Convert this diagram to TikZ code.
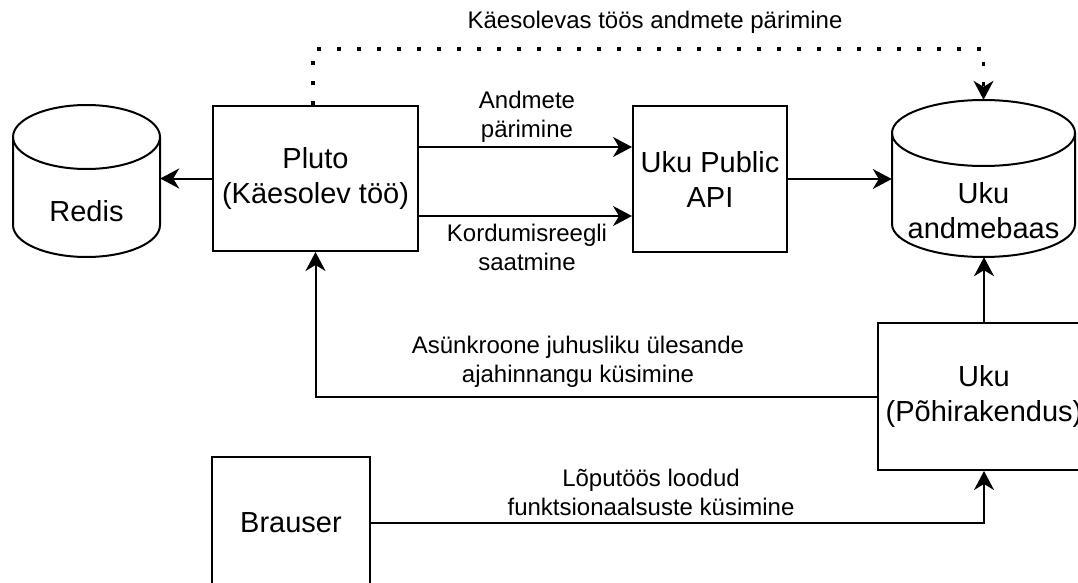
\documentclass[tikz,border=0pt]{standalone}
\usepackage{fontspec}
\setmainfont{Liberation Sans}
\usetikzlibrary{arrows.meta,calc}
\begin{document}
\begin{tikzpicture}[x=1pt,y=-1pt,
  box/.style={draw,line width=2pt,fill=white,inner sep=0pt},
  ntxt/.style={font=\fontsize{29}{35}\selectfont,align=center},
  lbl/.style={font=\fontsize{24}{29}\selectfont,align=center,inner sep=0pt},
  conn/.style={line width=2pt,-{Stealth[length=19pt,width=20pt,inset=6pt]}},
  dotconn/.style={line width=3.5pt,dash pattern=on 3.5pt off 16.5pt,-{Stealth[length=19pt,width=20pt,inset=6pt,line width=1pt]}},
  cyl/.style={draw,line width=2pt,fill=white}]
\useasboundingbox (0,0) rectangle (1078,583);
\clip (0,0) rectangle (1078,583);
% cylinders (frames)
\node[minimum width=147pt,minimum height=152pt,inner sep=0pt] (redis) at (86.5,181) {};
\draw[cyl] (13,137) -- (13,225) arc[start angle=180,end angle=360,x radius=73.5pt,y radius=32pt]
  -- (160,137) arc[start angle=0,end angle=180,x radius=73.5pt,y radius=32pt] -- cycle;
\draw[line width=2pt] (13,137) arc[start angle=180,end angle=360,x radius=73.5pt,y radius=32pt];
\node[ntxt] (redistxt) at (86.5,211) {Redis};
\node[minimum width=183pt,minimum height=157pt,inner sep=0pt] (db) at (983.5,178.5) {};
\draw[cyl] (892,133) -- (892,224) arc[start angle=180,end angle=360,x radius=91.5pt,y radius=33pt]
  -- (1075,133) arc[start angle=0,end angle=180,x radius=91.5pt,y radius=33pt] -- cycle;
\draw[line width=2pt] (892,133) arc[start angle=180,end angle=360,x radius=91.5pt,y radius=33pt];
\node[ntxt] (dbtxt) at (983.5,211) {Uku\\andmebaas};
% boxes
\node[box,ntxt,minimum width=205pt,minimum height=145pt] (pluto) at (315.5,178.5) {Pluto\\(Käesolev töö)};
\node[box,ntxt,minimum width=154pt,minimum height=146pt] (api) at (710,179) {Uku Public\\API};
\node[box,ntxt,minimum width=212pt,minimum height=147pt] (uku) at (984,396.5) {Uku\\(Põhirakendus)};
\node[box,ntxt,minimum width=158pt,minimum height=132pt] (brauser) at (291,523) {Brauser};
% connectors
\draw[conn] (pluto.west) -- (pluto.west -| redis.east);
\coordinate (a1) at ([yshift=31.5pt]pluto.east);
\coordinate (a2) at ([yshift=-37.5pt]pluto.east);
\draw[conn] (a1) -- (a1 -| api.west);
\draw[conn] (a2) -- (a2 -| api.west);
\draw[conn] (api.east) -- (api.east -| db.west);
\draw[conn] (uku.north) -- (uku.north |- db.south);
\draw[conn] (uku.west) -| (pluto.south);
\draw[conn] (brauser.east) -| (uku.south);
\coordinate (dtop) at (0,49);
\coordinate (dstart) at ([xshift=-2.5pt]pluto.north);
\draw[dotconn] (dstart) -- (dstart |- dtop) -- (dtop -| db.north) -- (db.north);
% labels
\node[lbl] (l0) at (655,22) {Käesolevas töös andmete pärimine};
\node[lbl] (l1) at (527,117) {Andmete\\pärimine};
\node[lbl] (l2) at (527,247) {Kordumisreegli\\saatmine};
\node[lbl] (l3) at (578,362) {Asünkroone juhusliku ülesande\\ajahinnangu küsimine};
\node[lbl] (l4) at (651,492) {Lõputöös loodud\\funktsionaalsuste küsimine};
\end{tikzpicture}
\end{document}
